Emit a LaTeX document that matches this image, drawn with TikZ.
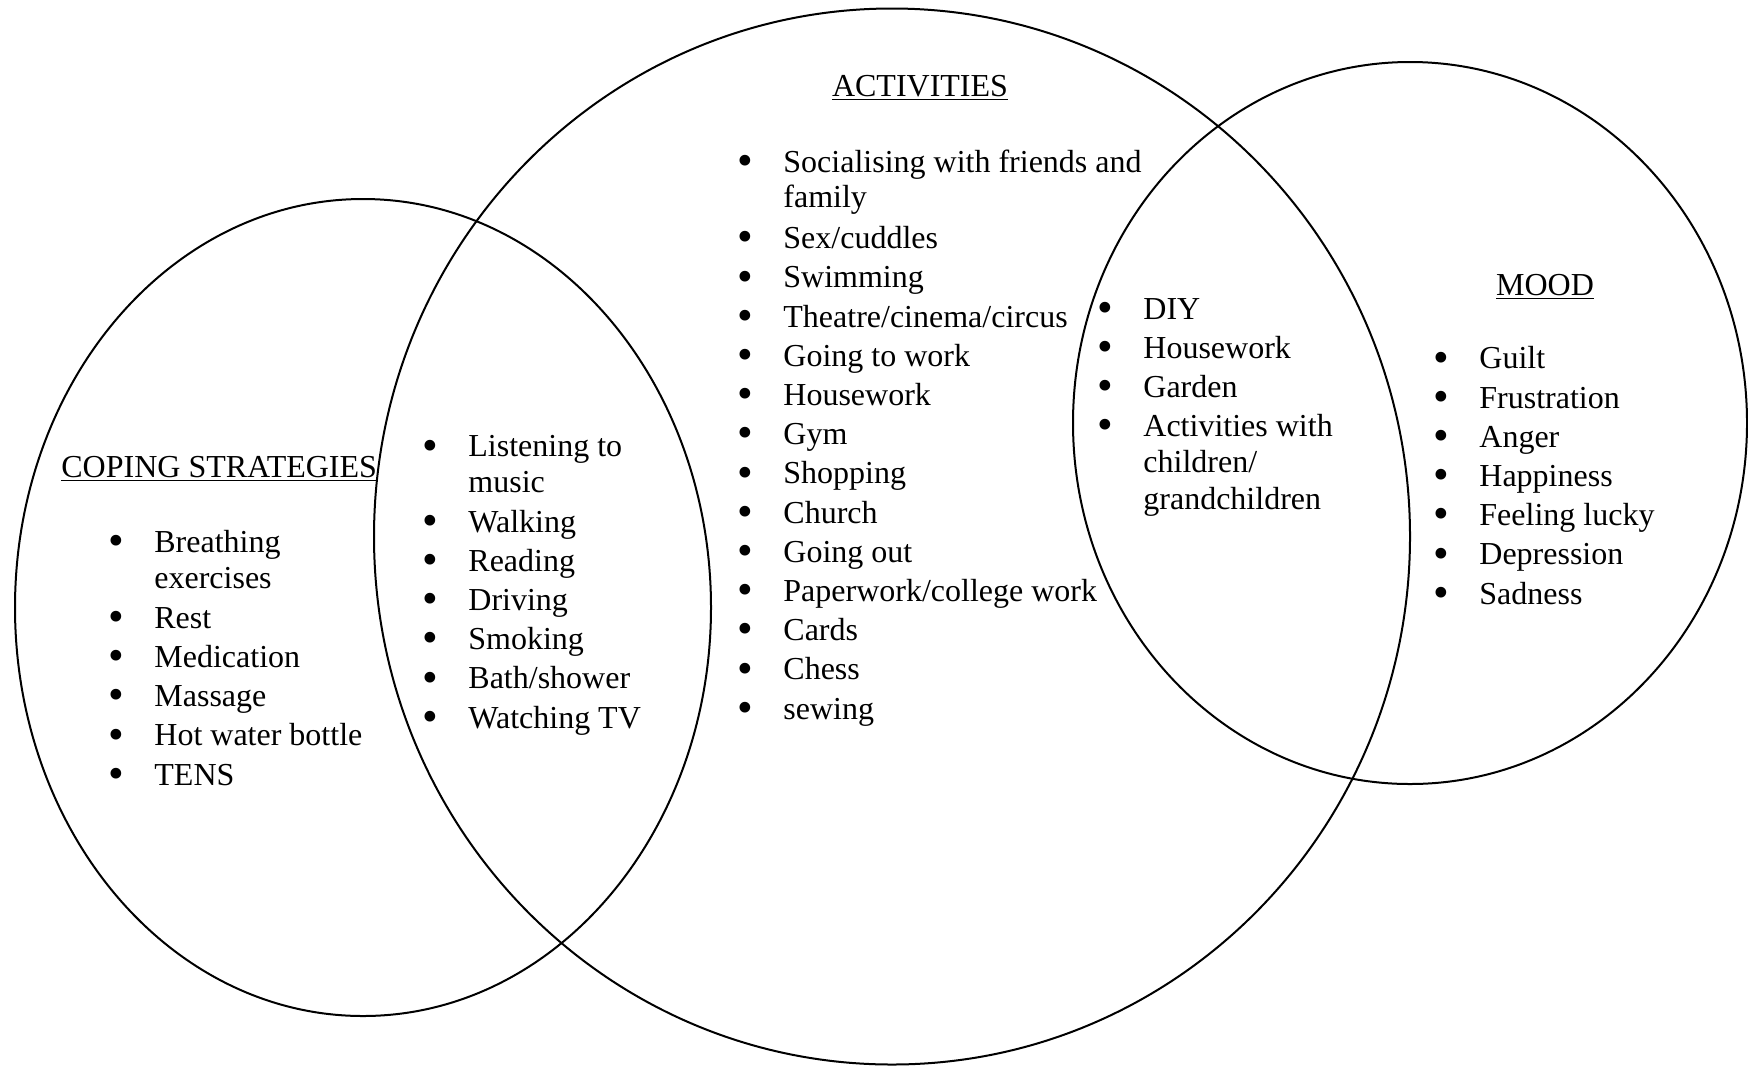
\documentclass[tikz,border=0pt]{standalone}
\usepackage{fontspec}
\setmainfont{Liberation Serif}
\usepackage{graphicx}
\newcommand{\bul}{\makebox[23pt][l]{\raisebox{-1.6pt}{\scalebox{1.4}{\textbullet}}}}
\newcommand{\ind}{\hspace*{23pt}}
\begin{document}
\begin{tikzpicture}[x=0.5pt,y=-0.5pt,
  venn/.style={draw=black, line width=1pt},
  lst/.style={anchor=base west, inner sep=0pt, align=left, font=\fontsize{16}{19.6}\selectfont},
  ttl/.style={inner sep=0pt, font=\fontsize{16}{19.6}\selectfont}]
\useasboundingbox (0,0) rectangle (1748,1066);
% circles
\draw[venn] (363,607.5) ellipse [x radius=174pt, y radius=204.25pt];
\draw[venn] (892,536.5) ellipse [x radius=259pt, y radius=264pt];
\draw[venn] (1410,423) ellipse [x radius=168.5pt, y radius=180.5pt];
% titles
\node[ttl, anchor=base] (actT) at (920,96) {\underline{ACTIVITIES}};
\node[ttl, anchor=base] (moodT) at (1545,295) {\underline{MOOD}};
\node[ttl, anchor=base west] (copT) at (61,477) {\underline{COPING STRATEGIES}};
% lists (anchored at the baseline of their last line)
\node[lst] (act) at (737,719) {\bul Socialising with friends and\\[-2pt]
\ind family\\[0.9pt]
\bul Sex/cuddles\\
\bul Swimming\\
\bul Theatre/cinema/circus\\
\bul Going to work\\
\bul Housework\\
\bul Gym\\
\bul Shopping\\
\bul Church\\
\bul Going out\\
\bul Paperwork/college work\\
\bul Cards\\
\bul Chess\\
\bul sewing};
\node[lst] (cop) at (108,785) {\bul Breathing\\[-1.6pt]
\ind exercises\\[0.4pt]
\bul Rest\\
\bul Medication\\
\bul Massage\\
\bul Hot water bottle\\
\bul TENS};
\node[lst] (copact) at (422,728) {\bul Listening to\\[-1.6pt]
\ind music\\
\bul Walking\\
\bul Reading\\
\bul Driving\\
\bul Smoking\\
\bul Bath/shower\\
\bul Watching TV};
\node[lst] (actmood) at (1097,509) {\bul DIY\\
\bul Housework\\
\bul Garden\\
\bul Activities with\\[-1.6pt]
\ind children/\\[-1.4pt]
\ind grandchildren};
\node[lst] (mood) at (1433,604) {\bul Guilt\\
\bul Frustration\\
\bul Anger\\
\bul Happiness\\
\bul Feeling lucky\\
\bul Depression\\
\bul Sadness};
\end{tikzpicture}
\end{document}
